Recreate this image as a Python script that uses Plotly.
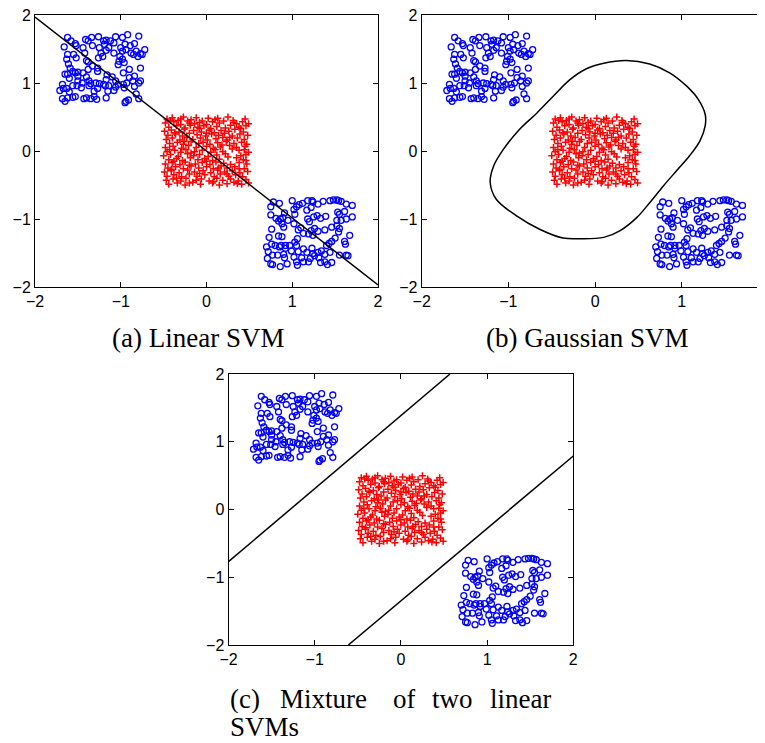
import plotly.graph_objects as go

# ---------------- data ----------------
blue1_x = [-1.62,-1.58,-1.53,-1.66,-1.52,-1.41,-1.38,-1.34,-1.26,-1.20,
           -1.17,-1.12,-1.08,-1.06,-0.98,-0.92,-0.79,-0.84,-0.89,-0.95,
           -1.00,-0.98,-0.94,-0.88,-0.82,-0.77,-0.72,-0.75,-0.80,-0.85,
           -1.01,-1.03,-0.96,-0.98,-1.02,-1.08,-1.14,-1.19,-1.25,-1.23,
           -1.26,-1.21,-1.17,-1.33,-1.44,-1.42,-1.40,-1.38,-1.52,-1.55,
           -1.62,-1.63,-1.61,-1.59,-1.56,-1.50,-1.44,-1.38,-1.33,-1.27,
           -1.27,-1.16,-1.17,-1.10,-0.97,-0.90,-0.84,-0.77,-0.77,-0.79,
           -0.86,-0.90,-0.93,-0.97,-0.96,-1.06,-1.08,-1.14,-1.18,-1.20,
           -1.25,-1.29,-1.35,-1.37,-1.40,-1.45,-1.50,-1.56,-1.60,-1.65,
           -1.62,-1.68,-1.67,-1.71,-1.63,-1.60,-1.51,-1.46,-1.37,-1.31,
           -1.27,-1.15,-1.17,-1.28,-1.31,-1.35,-1.40,-1.43,-1.53,-1.56,
           -1.62,-1.68,-1.65,-0.94,-0.95,-0.91,-0.82,-0.79,-0.84,-1.06,
           -1.03,-1.50,-1.53]
blue1_y = [1.67,1.62,1.58,1.53,1.55,1.64,1.62,1.67,1.68,1.62,
           1.63,1.62,1.59,1.68,1.67,1.71,1.69,1.58,1.55,1.57,
           1.52,1.47,1.49,1.44,1.47,1.43,1.49,1.42,1.39,1.42,
           1.39,1.27,1.30,1.35,1.32,1.44,1.52,1.57,1.52,1.44,
           1.37,1.39,1.48,1.55,1.52,1.44,1.33,1.31,1.37,1.42,
           1.42,1.35,1.28,1.22,1.17,1.16,1.15,1.20,1.25,1.22,
           1.17,1.12,1.05,1.09,1.15,1.20,1.10,1.22,1.03,1.00,
           1.03,1.08,1.00,0.98,0.93,0.94,0.89,0.96,0.96,0.98,
           0.99,1.00,0.99,1.03,1.09,1.00,1.03,0.96,1.07,1.13,
           1.13,0.98,0.92,0.89,0.92,0.87,0.96,0.93,0.96,0.88,
           0.92,0.88,0.78,0.76,0.80,0.77,0.78,0.77,0.80,0.79,
           0.78,0.77,0.73,0.73,0.71,0.75,0.84,0.77,0.95,1.03,
           0.98,1.10,1.15]

blue2_x = [0.78,0.85,0.75,0.75,0.81,0.86,0.88,0.91,0.89,0.84,
           0.76,0.90,1.00,1.05,1.08,1.12,1.18,1.23,1.24,1.30,
           1.22,1.17,1.02,1.03,1.02,1.10,1.18,1.20,1.25,1.29,
           1.33,1.39,1.36,1.44,1.48,1.52,1.54,1.57,1.63,1.70,
           1.61,1.55,1.53,1.52,1.57,1.63,1.70,1.52,1.55,1.46,
           1.38,1.30,1.26,1.22,1.24,1.19,1.13,1.06,1.03,1.05,
           0.97,0.92,0.87,0.85,0.80,0.76,0.73,0.70,0.72,0.77,
           0.83,0.90,0.92,0.91,0.77,0.75,0.86,0.94,1.02,1.05,
           1.06,1.11,1.13,1.19,1.23,1.24,1.26,1.31,1.33,1.38,
           1.41,1.46,1.44,1.40,1.43,1.46,1.50,1.54,1.61,1.62,
           1.67,1.55,1.63,1.65,1.13,1.17,1.21,1.30,1.34,1.38,
           0.71,0.99,1.07,0.84,0.88,1.07,0.95]
blue2_y = [-0.75,-0.77,-0.82,-0.94,-0.99,-1.00,-1.07,-0.91,-0.98,-1.03,
           -1.15,-1.12,-0.73,-0.82,-0.79,-0.77,-0.73,-0.73,-0.75,-0.78,
           -0.83,-0.87,-0.86,-0.93,-1.07,-1.13,-1.00,-1.04,-0.97,-0.95,
           -0.99,-0.96,-0.74,-0.73,-0.72,-0.72,-0.73,-0.74,-0.78,-0.80,
           -0.89,-0.93,-0.90,-1.02,-1.02,-1.00,-0.97,-1.10,-1.14,-1.12,
           -1.16,-1.18,-1.14,-1.17,-1.24,-1.22,-1.21,-1.29,-1.34,-1.39,
           -1.39,-1.39,-1.39,-1.41,-1.39,-1.37,-1.27,-1.41,-1.48,-1.53,
           -1.53,-1.52,-1.43,-1.57,-1.67,-1.66,-1.70,-1.66,-1.56,-1.63,
           -1.68,-1.57,-1.63,-1.63,-1.43,-1.51,-1.54,-1.57,-1.64,-1.63,
           -1.67,-1.64,-1.49,-1.39,-1.36,-1.33,-1.28,-1.19,-1.33,-1.37,
           -1.24,-1.53,-1.53,-1.54,-1.44,-1.49,-1.58,-1.49,-1.47,-1.52,
           -1.58,-1.47,-1.48,-1.25,-1.26,-1.16,-1.02]

red_x = [-0.46,-0.40,-0.33,-0.27,-0.18,-0.12,-0.05,0.02,0.10,0.25,0.31,0.45,
         -0.48,-0.38,-0.30,-0.22,-0.14,-0.08,0.00,0.07,0.15,0.20,0.35,0.42,0.49,
         -0.44,-0.35,-0.25,-0.19,-0.10,-0.03,0.05,0.12,0.22,0.28,0.38,0.46,
         -0.49,-0.41,-0.32,-0.26,-0.15,-0.06,0.03,0.09,0.17,0.26,0.33,0.43,
         -0.45,-0.36,-0.28,-0.20,-0.11,-0.01,0.06,0.14,0.21,0.30,0.39,0.48,
         -0.47,-0.40,-0.31,-0.23,-0.16,-0.07,0.01,0.11,0.19,0.24,0.36,0.44,
         -0.43,-0.34,-0.27,-0.18,-0.09,-0.04,0.04,0.13,0.23,0.32,0.41,0.47,
         -0.48,-0.39,-0.29,-0.21,-0.12,0.00,0.08,0.16,0.27,0.35,0.45,
         -0.46,-0.37,-0.30,-0.24,-0.14,-0.05,0.05,0.10,0.19,0.38,0.49,
         -0.50,-0.42,-0.33,-0.22,-0.15,-0.08,0.02,0.12,0.22,0.40,0.46,
         -0.44,-0.35,-0.28,-0.19,-0.10,-0.02,0.07,0.15,0.35,0.43,
         -0.48,-0.40,-0.31,-0.25,-0.13,-0.05,0.04,0.11,0.20,0.28,0.38,0.47,
         -0.45,-0.36,-0.27,-0.18,-0.09,0.00,0.08,0.17,0.24,0.33,0.44,
         -0.49,-0.41,-0.32,-0.22,-0.14,-0.04,0.05,0.13,0.21,0.30,0.39,0.48,
         -0.46,-0.38,-0.29,-0.20,-0.11,-0.02,0.09,0.16,0.26,0.34,0.42,
         -0.47,-0.39,-0.30,-0.24,-0.12,-0.06,0.03,0.12,0.19,0.28,0.37,0.46,
         -0.44,-0.34,-0.25,-0.16,-0.07,0.07,0.15,0.24,0.32,0.41,0.49,
         -0.42,-0.20,0.13,0.40,-0.37,0.00,0.27,-0.26,0.18,-0.43,
         0.30,-0.18,0.25,-0.38,0.00,0.46,-0.20,0.14,-0.41,0.38,
         -0.08,0.24,-0.35,0.08,-0.20,0.36,0.44,-0.08,0.32,-0.30]
red_y = [0.47,0.49,0.45,0.50,0.46,0.49,0.44,0.48,0.46,0.50,0.45,0.47,
         0.41,0.43,0.39,0.44,0.40,0.42,0.39,0.43,0.41,0.44,0.40,0.43,0.40,
         0.35,0.37,0.34,0.38,0.35,0.37,0.33,0.36,0.34,0.38,0.35,0.37,
         0.29,0.31,0.28,0.32,0.30,0.28,0.31,0.27,0.30,0.29,0.32,0.28,
         0.23,0.25,0.22,0.26,0.24,0.22,0.25,0.23,0.26,0.22,0.25,0.23,
         0.17,0.19,0.16,0.20,0.17,0.19,0.16,0.18,0.20,0.16,0.19,0.17,
         0.11,0.13,0.10,0.14,0.11,0.13,0.10,0.12,0.14,0.11,0.13,0.10,
         0.05,0.07,0.04,0.08,0.05,0.07,0.04,0.06,0.08,0.05,0.07,
         -0.01,0.01,-0.02,0.02,-0.01,0.01,-0.02,0.02,-0.01,0.01,-0.02,
         -0.07,-0.05,-0.08,-0.04,-0.07,-0.05,-0.08,-0.06,-0.04,-0.07,-0.05,
         -0.13,-0.11,-0.14,-0.10,-0.13,-0.11,-0.14,-0.12,-0.10,-0.13,
         -0.19,-0.17,-0.20,-0.16,-0.19,-0.17,-0.20,-0.16,-0.18,-0.20,-0.17,-0.19,
         -0.25,-0.23,-0.26,-0.22,-0.25,-0.23,-0.26,-0.22,-0.25,-0.23,-0.26,
         -0.31,-0.29,-0.32,-0.28,-0.31,-0.29,-0.32,-0.28,-0.31,-0.29,-0.32,-0.30,
         -0.37,-0.35,-0.38,-0.34,-0.37,-0.35,-0.38,-0.34,-0.37,-0.35,-0.38,
         -0.43,-0.41,-0.44,-0.40,-0.43,-0.41,-0.44,-0.40,-0.43,-0.41,-0.44,-0.42,
         -0.49,-0.47,-0.50,-0.46,-0.49,-0.47,-0.50,-0.48,-0.46,-0.49,-0.47,
         0.45,0.41,0.48,0.33,0.27,0.26,0.20,0.14,0.09,0.02,
         0.03,-0.03,-0.09,-0.15,-0.15,-0.14,-0.21,-0.25,-0.27,-0.26,
         -0.33,-0.34,-0.40,-0.45,-0.47,-0.48,0.02,0.33,0.42,0.47]

# decision boundaries
linear_x = [-2, 2]
linear_y = [1.97, -1.97]

gauss_x = [0.36, 0.63, 0.86, 1.06, 1.19, 1.27, 1.27, 1.21, 1.09, 0.94, 0.79, 0.63,
           0.48, 0.29, 0.10, -0.17, -0.37, -0.64, -0.91, -1.14, -1.21, -1.17,
           -1.06, -0.87, -0.67, -0.48, -0.29, -0.10, 0.10, 0.36]
gauss_y = [1.33, 1.28, 1.15, 0.95, 0.76, 0.54, 0.37, 0.15, -0.07, -0.29, -0.51, -0.76,
           -0.98, -1.17, -1.27, -1.29, -1.28, -1.15, -0.95, -0.71, -0.46, -0.22,
           0.02, 0.32, 0.56, 0.81, 1.05, 1.21, 1.29, 1.33]

mix_x = [-2, 0.57, None, -0.61, 2]
mix_y = [-0.77, 2, None, -2, 0.79]

tick_vals = [-2, -1, 0, 1, 2]
tick_text = ["\u22122", "\u22121", "0", "1", "2"]

caption_a = "(a) Linear SVM"
caption_b = "(b) Gaussian SVM"
caption_c_line1 = ["(c)", "Mixture", "of", "two", "linear"]
caption_c_line2 = "SVMs"

# ---------------- layout helpers ----------------
# the page body has an 8px margin, so the figure starts at (8, 8) of the window
OFF = 8
W, H = 765 - OFF, 743 - OFF
def px(x):
    return (x - OFF) / W
def py(y):
    return 1 - (y - OFF) / H

fig = go.Figure()

panels = [
    ("x", "y", (35, 378), (15, 287), [-2, 2]),
    ("x2", "y2", (421.7, 765), (15, 287), [-2, 1.96]),
    ("x3", "y3", (228.5, 573.3), (374, 645), [-2, 2]),
]

boundaries = [
    (linear_x, linear_y, "linear"),
    (gauss_x, gauss_y, "spline"),
    (mix_x, mix_y, "linear"),
]

blue_marker = dict(symbol="circle-open", size=6, color="#0000ff",
                   line=dict(width=1.3, color="#0000ff"))
red_marker = dict(symbol="cross-thin", size=5, color="#ff0000",
                  line=dict(width=1.5, color="#ff0000"))

for (xa, ya, _, _, _), (bx, by, shape) in zip(panels, boundaries):
    fig.add_trace(go.Scatter(x=blue1_x, y=blue1_y, mode="markers", xaxis=xa, yaxis=ya,
                             marker=blue_marker, showlegend=False, hoverinfo="skip"))
    fig.add_trace(go.Scatter(x=blue2_x, y=blue2_y, mode="markers", xaxis=xa, yaxis=ya,
                             marker=blue_marker, showlegend=False, hoverinfo="skip"))
    fig.add_trace(go.Scatter(x=red_x, y=red_y, mode="markers", xaxis=xa, yaxis=ya,
                             marker=red_marker, showlegend=False, hoverinfo="skip"))
    fig.add_trace(go.Scatter(x=bx, y=by, mode="lines", xaxis=xa, yaxis=ya,
                             line=dict(color="black", width=1.5, shape=shape, smoothing=1.0),
                             showlegend=False, hoverinfo="skip"))

axis_common = dict(showline=True, linecolor="black", linewidth=1, mirror="ticks",
                   ticks="inside", ticklen=5, tickcolor="black", showgrid=False,
                   zeroline=False, tickvals=tick_vals, ticktext=tick_text, automargin=False,
                   ticklabeloverflow="allow",
                   tickfont=dict(family="Liberation Sans, Arial, sans-serif", size=16, color="black"))

layout = dict(width=W, height=H, margin=dict(l=0, r=0, t=0, b=0, pad=0),
              paper_bgcolor="white", plot_bgcolor="white", showlegend=False)

for i, (xa, ya, (x0, x1), (y0, y1), xr) in enumerate(panels):
    sx = "" if i == 0 else str(i + 1)
    layout["xaxis" + sx] = dict(axis_common, domain=[px(x0), min(1.0, px(x1))], range=xr,
                                anchor="y" + sx)
    layout["yaxis" + sx] = dict(axis_common, domain=[py(y1), py(y0)], range=[-2, 2],
                                anchor="x" + sx)

fig.update_layout(**layout)

cap_font = dict(family="Liberation Serif", size=27, color="black")
ann = [
    dict(text=caption_a, x=px(198), y=py(338), xref="paper", yref="paper",
         xanchor="center", yanchor="middle", showarrow=False, font=cap_font),
    dict(text=caption_b, x=px(587), y=py(338), xref="paper", yref="paper",
         xanchor="center", yanchor="middle", showarrow=False, font=cap_font),
]
word_x = [229, 279, 392, 431, 489]
for wx, w in zip(word_x, caption_c_line1):
    ann.append(dict(text=w, x=px(wx), y=py(699), xref="paper", yref="paper",
                    xanchor="left", yanchor="middle", showarrow=False, font=cap_font,
                    height=28, borderpad=0))
ann.append(dict(text=caption_c_line2, x=px(229), y=py(727), xref="paper", yref="paper",
                xanchor="left", yanchor="middle", showarrow=False, font=cap_font,
                height=28, borderpad=0))
fig.update_layout(annotations=ann)

fig.write_html("out.html")
